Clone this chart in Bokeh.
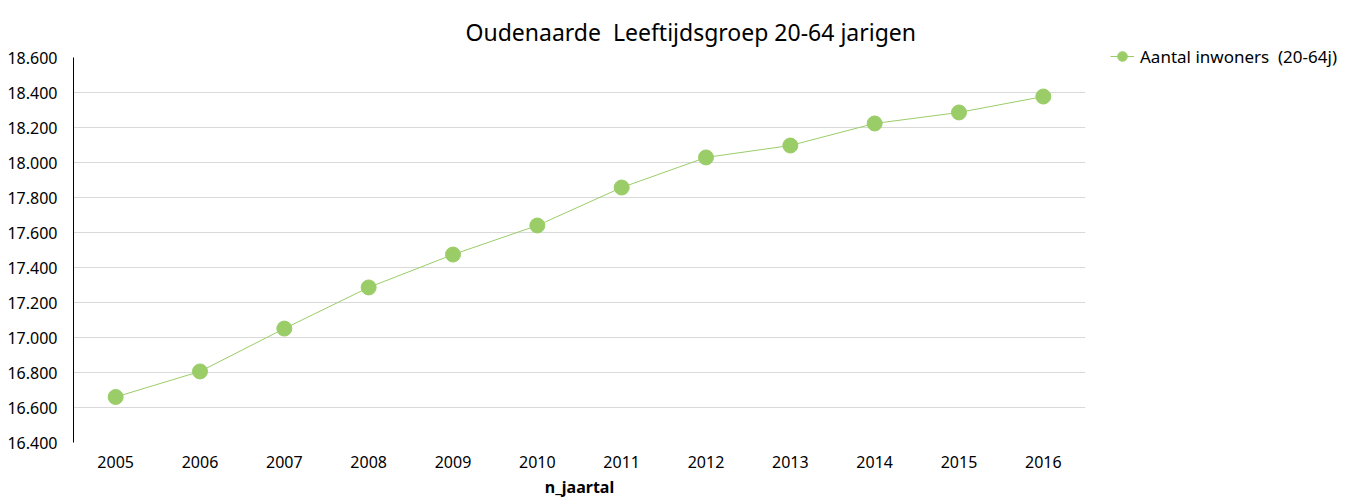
from bokeh.plotting import figure
from bokeh.models import (ColumnDataSource, FixedTicker, CustomJSTickFormatter, Range1d,
                          FactorRange, Legend, LegendItem, Title)
from bokeh.embed import file_html
from bokeh.resources import INLINE

years = ["2005", "2006", "2007", "2008", "2009", "2010", "2011", "2012", "2013", "2014", "2015", "2016"]
inwoners = [16660, 16806, 17051, 17286, 17474, 17640, 17857, 18029, 18097, 18223, 18286, 18377]
y_ticks = [16400, 16600, 16800, 17000, 17200, 17400, 17600, 17800, 18000, 18200, 18400, 18600]

FONT = "Noto Sans"
GREEN = "#9ACD68"

src = ColumnDataSource(dict(x=years, y=inwoners))

p = figure(x_range=FactorRange(*years), y_range=Range1d(16400, 18600),
           width=1344, height=489, output_backend="svg", toolbar_location=None,
           min_border_left=73, min_border_right=259, min_border_top=57, min_border_bottom=47,
           frame_width=1012, frame_height=385)
p.x_range.range_padding = 0
p.outline_line_color = None

line = p.line("x", "y", source=src, line_color=GREEN, line_width=1)
dots = p.scatter("x", "y", source=src, size=15, fill_color=GREEN, line_color=GREEN)

title = Title(text="Oudenaarde\u00a0\u00a0Leeftijdsgroep 20-64 jarigen", align="left",
              vertical_align="top",
              text_font=FONT, text_font_size="23px", text_font_style="normal",
              text_color="#000000", offset=392, standoff=16)
p.add_layout(title, "above")

p.yaxis.ticker = FixedTicker(ticks=y_ticks)
p.yaxis.formatter = CustomJSTickFormatter(code="return tick.toFixed(0).replace(/\\B(?=(\\d{3})+(?!\\d))/g, '.');")
p.yaxis.axis_line_color = "#000000"
p.yaxis.major_tick_line_color = None
p.yaxis.minor_tick_line_color = None
p.yaxis.major_label_standoff = 10
p.yaxis.major_label_text_font = FONT
p.yaxis.major_label_text_font_size = "16px"
p.yaxis.major_label_text_color = "#000000"

p.xaxis.axis_line_color = None
p.xaxis.major_tick_line_color = None
p.xaxis.minor_tick_line_color = None
p.xaxis.major_label_standoff = 7
p.xaxis.major_label_text_font = FONT
p.xaxis.major_label_text_font_size = "16px"
p.xaxis.major_label_text_color = "#000000"
p.xaxis.axis_label = "n_jaartal"
p.xaxis.axis_label_text_font = FONT
p.xaxis.axis_label_text_font_size = "16px"
p.xaxis.axis_label_text_font_style = "bold"
p.xaxis.axis_label_text_color = "#000000"
p.xaxis.axis_label_standoff = 5

p.xgrid.grid_line_color = None
p.ygrid.grid_line_color = "#D9D9D9"
p.ygrid.grid_line_width = 1

legend = Legend(items=[LegendItem(label="Aantal inwoners\u00a0\u00a0(20-64j)", renderers=[line, dots])],
                location=(25, 371), orientation="vertical",
                label_text_font=FONT, label_text_font_size="17px", label_text_color="#000000",
                glyph_width=24, glyph_height=30, label_height=30, label_standoff=6,
                padding=0, margin=0, spacing=0,
                border_line_color=None, background_fill_alpha=0)
p.add_layout(legend, "right")

open("out.html", "w").write(file_html(p, INLINE))
